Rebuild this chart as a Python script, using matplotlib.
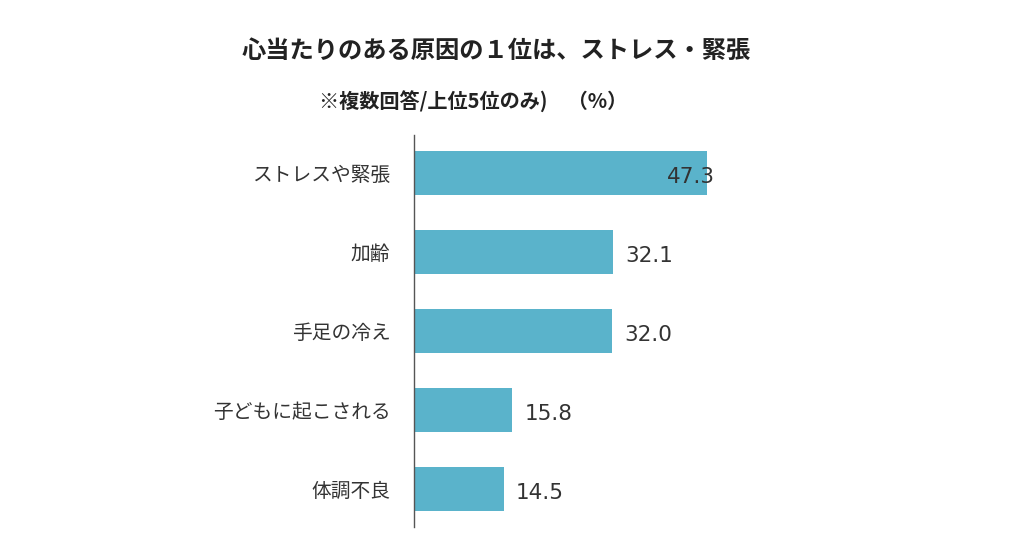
import matplotlib
matplotlib.use('Agg')
import matplotlib.pyplot as plt

plt.rcParams['font.family'] = ['Noto Sans CJK JP', 'DejaVu Sans']

# データ
categories = ['ストレスや緊張', '加齢', '手足の冷え', '子どもに起こされる', '体調不良']
values = [47.3, 32.1, 32.0, 15.8, 14.5]
value_labels = ['47.3', '32.1', '32.0', '15.8', '14.5']

title = '心当たりのある原因の１位は、ストレス・緊張'
subtitle = '※複数回答/上位5位のみ)　（%）'

bar_color = '#5AB3CB'
text_color = '#333333'

fig = plt.figure(figsize=(10.24, 5.38), dpi=100)
ax = fig.add_axes([0.4043, 0.0204, 0.4838, 0.7286])

y = list(range(len(categories)))
ax.barh(y, values, height=0.55, color=bar_color)
ax.set_ylim(len(categories) - 0.52, -0.48)
ax.set_xlim(0, 80)

for i, (v, lab) in enumerate(zip(values, value_labels)):
    # 一番上のラベルだけ棒に重なる位置
    if i == 0:
        x = v - 6.4
    else:
        x = v + 2.0
    ax.text(x, i + 0.05, lab, va='center', ha='left', fontsize=15.5,
            color=text_color, family=['DejaVu Sans'])

ax.set_yticks(y)
ax.set_yticklabels(categories, fontsize=14.2, color=text_color)
ax.tick_params(axis='y', length=0, pad=17)
ax.set_xticks([])

for s in ['top', 'right', 'bottom']:
    ax.spines[s].set_visible(False)
ax.spines['left'].set_color('#555555')
ax.spines['left'].set_linewidth(1.0)

fig.text(0.485, 0.905, title, ha='center', va='center', fontsize=17.5,
         fontweight='bold', color='#222222')
fig.text(0.462, 0.81, subtitle, ha='center', va='center', fontsize=14.5,
         fontweight='bold', color='#222222')

fig.savefig('out.png', dpi=100)
